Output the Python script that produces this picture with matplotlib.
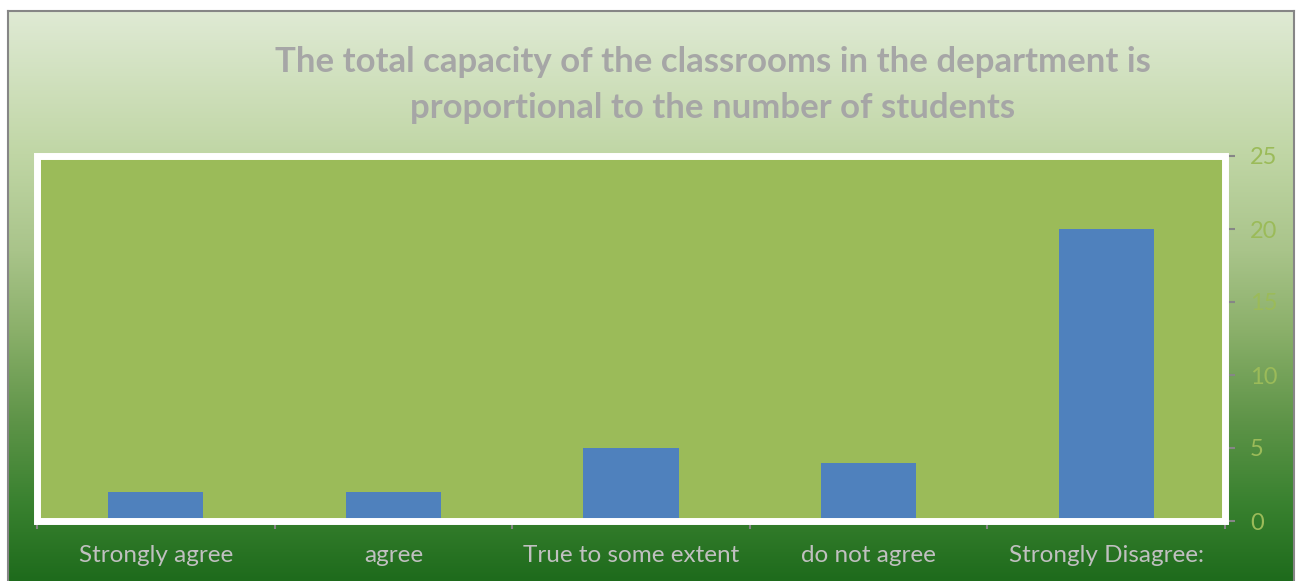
import numpy as np
import matplotlib.pyplot as plt
from matplotlib.colors import LinearSegmentedColormap
from matplotlib.patches import Rectangle

categories = ['Strongly agree', 'agree', 'True to some extent', 'do not agree', 'Strongly Disagree:']
counts = [2, 2, 5, 4, 20]
yticks = [0, 5, 10, 15, 20, 25]
title = 'The total capacity of the classrooms in the department is\nproportional to the number of students'

plt.rcParams['font.family'] = ['Lato', 'DejaVu Sans']

W, H = 1301, 581
fig = plt.figure(figsize=(W / 100, H / 100), dpi=100)

# background chart area with vertical gradient
bg = fig.add_axes([8 / W, 0, (1294 - 8) / W, (H - 11) / H])
stops = [(0.0, '#1e6b1c'), (0.14, '#3a8230'), (0.28, '#5e9448'),
         (0.44, '#8bb06a'), (0.58, '#a9c48a'), (0.75, '#c0d6a5'), (1.0, '#dfead4')]
cmap = LinearSegmentedColormap.from_list('bg', stops)
grad = np.linspace(0, 1, 256).reshape(-1, 1)
bg.imshow(grad, aspect='auto', cmap=cmap, origin='lower', extent=[0, 1, 0, 1])
bg.set_xlim(0, 1)
bg.set_ylim(0, 1)
bg.set_xticks([])
bg.set_yticks([])
for s in ['top', 'left', 'right']:
    bg.spines[s].set_color('#868686')
    bg.spines[s].set_linewidth(1.5)
bg.spines['bottom'].set_visible(False)

# plot area
x0, x1, ytop, ybot = 37, 1225, 156, 521
ax = fig.add_axes([x0 / W, (H - ybot) / H, (x1 - x0) / W, (ybot - ytop) / H])
ax.set_facecolor('#9bbb59')
x = np.arange(len(categories))
ax.bar(x, counts, width=0.4, color='#4f81bd', zorder=3)
ax.set_xlim(-0.5, len(categories) - 0.5)
ax.set_ylim(0, 25)

ax.yaxis.tick_right()
ax.set_yticks(yticks)
ax.set_yticklabels([str(v) for v in yticks])
ax.tick_params(axis='y', colors='#868686', labelcolor='#9bbb59', labelsize=17,
               length=7, width=1.5, pad=11)
ax.set_xticks(x)
ax.set_xticklabels(categories)
ax.set_xticks(np.arange(-0.5, len(categories)), minor=True)
ax.tick_params(axis='x', which='major', length=0, labelcolor='#c0c0c0',
               labelsize=17.5, pad=17)
ax.tick_params(axis='x', which='minor', length=6, width=1.5, color='#868686')

for s in ['top', 'left']:
    ax.spines[s].set_visible(False)
ax.spines['bottom'].set_color('#868686')
ax.spines['bottom'].set_linewidth(1.5)
ax.spines['right'].set_color('#868686')
ax.spines['right'].set_linewidth(1.5)

# white frame around the plot area
frame = Rectangle((0, 0), 1, 1, transform=ax.transAxes, fill=False,
                  edgecolor='white', linewidth=5, zorder=5, clip_on=False)
ax.add_patch(frame)

fig.text(713 / W, 1 - 85 / H, title, ha='center', va='center', color='#a6a6a6',
         fontsize=25, fontweight='bold', linespacing=1.5)

fig.savefig('out.png', dpi=100)
